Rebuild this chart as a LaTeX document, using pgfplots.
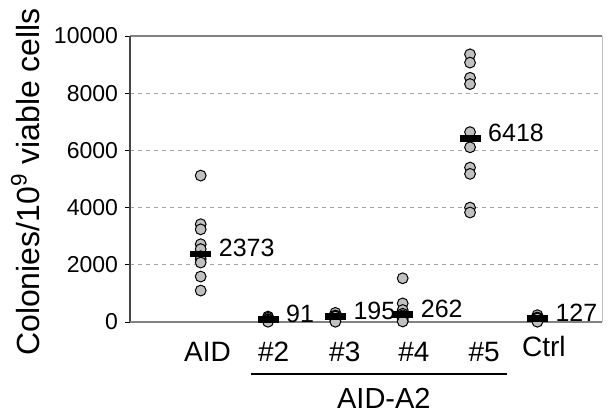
\documentclass[border=0pt]{standalone}
\usepackage{fontspec}
\setmainfont{Liberation Sans}
\usepackage{pgfplots}
\pgfplotsset{compat=1.18}

\definecolor{dotgray}{RGB}{192,192,192}
\definecolor{axgray}{RGB}{130,130,130}
\definecolor{axdark}{RGB}{70,70,70}

% one column of dots per group: x = group index
\pgfplotstableread{
x y
0 5120
0 3420
0 3240
0 2720
0 2550
0 2300
0 2200
0 2080
0 1590
0 1100
1 190
1 150
1 100
1 82
1 40
1 10
2 320
2 230
2 200
2 190
2 40
2 10
3 1530
3 650
3 420
3 290
3 234
3 120
3 60
3 20
4 9360
4 9070
4 8540
4 8320
4 6640
4 6110
4 5400
4 5180
4 4000
4 3830
5 240
5 160
5 130
5 124
5 40
5 10
}\dots

\pgfplotstableread{
x y label
0 2373 2373
1 91 91
2 195 195
3 262 262
4 6418 6418
5 127 127
}\medians

\begin{document}
\begin{tikzpicture}
\begin{axis}[
  scale only axis,
  width=236pt, height=143pt,
  xmin=-1.05, xmax=5.96,
  ymin=0, ymax=10000,
  xtick={0.10,1.085,2.14,3.167,4.21,5.096},
  xticklabels={AID,\#2,\#3,\#4,\#5,\raisebox{3pt}[\height]{Ctrl}},
  ytick={0,2000,...,10000},
  scaled y ticks=false,
  major x tick style={draw=none},
  ytick pos=left,
  tick align=outside,
  major tick length=2.5pt,
  y tick style={black, line width=0.5pt},
  ymajorgrids,
  grid style={gray!70, dash pattern=on 2pt off 2pt, line width=0.4pt},
  axis line style={draw=none},
  /pgf/number format/assume math mode=true,
  /pgf/number format/set thousands separator={},
  yticklabel style={font=\fontsize{11.5}{13}\selectfont},
  xticklabel style={font=\fontsize{14}{16}\selectfont, yshift=-4pt},
  ylabel={Colonies/10\textsuperscript{9} viable cells},
  ylabel style={font=\fontsize{16}{18}\selectfont, at={(axis description cs:-0.222,0.49)}, anchor=center},
  clip=false,
]
% frame
\draw[axgray, line width=1pt] (rel axis cs:0,1) -- (rel axis cs:1,1);
\draw[gray!50, line width=0.5pt] (rel axis cs:1,0) -- (rel axis cs:1,1);
\draw[axdark, line width=1pt] (rel axis cs:0,0) -- (rel axis cs:0,1);
\draw[axgray, line width=1.2pt] (rel axis cs:0,0) -- (rel axis cs:1,0);

\addplot[only marks, mark=*, mark size=2.7pt,
  mark options={fill=dotgray, draw=black, line width=0.5pt}]
  table[x=x, y=y] {\dots};

\addplot[only marks, mark=-, mark size=5.25pt,
  mark options={draw=black, line width=3.2pt},
  nodes near coords, point meta=explicit symbolic,
  nodes near coords style={anchor=west, inner sep=0pt, xshift=7.5pt, yshift=3pt,
    font=\fontsize{12.5}{14}\selectfont, text=black}]
  table[x=x, y=y, meta=label] {\medians};

% group bracket
\draw[black, line width=1pt] (axis cs:0.743,-1818) -- (axis cs:4.556,-1818);
\node[font=\fontsize{14.5}{16}\selectfont, anchor=center] at (axis cs:2.72,-2658) {AID-A2};

\path (rel axis cs:-0.2754,-0.3357) rectangle (rel axis cs:1.0254,1.1259);
\end{axis}
\end{tikzpicture}
\end{document}
